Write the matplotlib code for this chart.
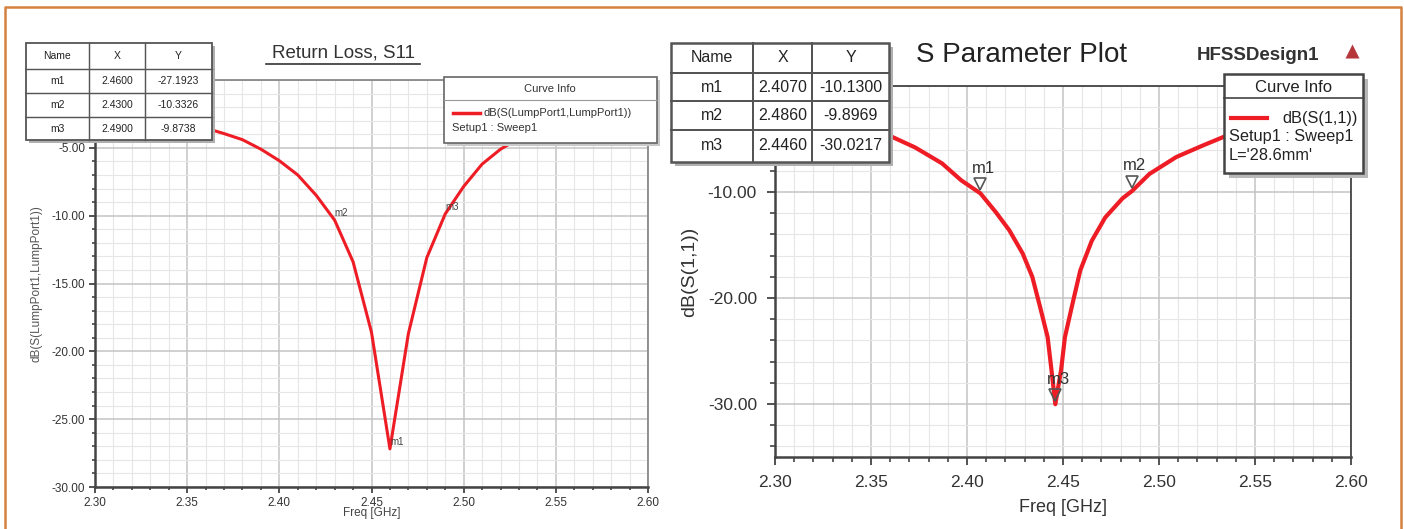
import matplotlib.pyplot as plt
import matplotlib.transforms as mtransforms
from matplotlib.patches import Rectangle
from matplotlib.ticker import MultipleLocator, FormatStrFormatter

plt.rcParams['font.family'] = ['Liberation Sans', 'DejaVu Sans']

W, H = 1404, 529

# left plot: Return Loss, S11 (coarse sweep, 0.01 GHz)
left_freq = [2.30, 2.31, 2.32, 2.33, 2.34, 2.35, 2.36, 2.37, 2.38, 2.39, 2.40,
             2.41, 2.42, 2.43, 2.44, 2.45, 2.46, 2.47, 2.48, 2.49, 2.50,
             2.51, 2.52, 2.53, 2.54, 2.55, 2.56, 2.57, 2.58, 2.59, 2.60]
left_db = [-2.0, -2.2, -2.4, -2.6, -2.9, -3.2, -3.55, -3.95, -4.4, -5.1, -5.95,
           -7.0, -8.5, -10.33, -13.4, -18.6, -27.19, -18.7, -13.1, -9.87, -7.85,
           -6.2, -5.1, -4.3, -3.7, -3.2, -2.8, -2.5, -2.3, -2.1, -1.9]
left_names = ['m1', 'm2', 'm3']
left_mx = [2.46, 2.43, 2.49]
left_my = [-27.1923, -10.3326, -9.8738]

# right plot: S Parameter Plot
right_freq = [2.30, 2.32, 2.34, 2.35, 2.361, 2.373, 2.387, 2.397, 2.407, 2.415,
              2.422, 2.429, 2.434, 2.438, 2.442, 2.444, 2.446, 2.449, 2.451, 2.455,
              2.459, 2.465, 2.472, 2.481, 2.486, 2.495, 2.509, 2.523, 2.535, 2.55,
              2.57, 2.60]
right_db = [-2.4, -3.0, -3.8, -4.3, -4.8, -5.8, -7.3, -8.9, -10.13, -11.9,
            -13.6, -15.8, -18.0, -20.8, -23.7, -26.8, -30.02, -26.8, -23.7, -20.5,
            -17.4, -14.6, -12.4, -10.6, -9.9, -8.3, -6.7, -5.6, -4.7, -3.9,
            -3.2, -2.5]
right_names = ['m1', 'm2', 'm3']
right_mx = [2.407, 2.486, 2.446]
right_my = [-10.13, -9.8969, -30.0217]

RED = '#ee1c24'

fig = plt.figure(figsize=(W / 100, H / 100), dpi=100)
fig.patch.set_facecolor('white')


def axes_px(x0, y0, x1, y1):
    return fig.add_axes([x0 / W, 1 - y1 / H, (x1 - x0) / W, (y1 - y0) / H])


def style_axes(ax, xmaj, xmin, ymaj, ymin, fs, pad, tl, spine_c):
    ax.xaxis.set_major_locator(MultipleLocator(xmaj))
    ax.xaxis.set_minor_locator(MultipleLocator(xmin))
    ax.yaxis.set_major_locator(MultipleLocator(ymaj))
    ax.yaxis.set_minor_locator(MultipleLocator(ymin))
    ax.xaxis.set_major_formatter(FormatStrFormatter('%.2f'))
    ax.yaxis.set_major_formatter(FormatStrFormatter('%.2f'))
    ax.grid(which='major', color='#c4c4c4', lw=1.1)
    ax.grid(which='minor', color='#e6e6e6', lw=0.8)
    ax.set_axisbelow(True)
    ax.tick_params(which='major', length=tl, width=1.3, color='#444',
                   labelsize=fs, labelcolor='#333', pad=pad)
    ax.tick_params(which='minor', length=tl * 0.6, width=1.2, color='#444')
    for s in ax.spines.values():
        s.set_color(spine_c)
        s.set_linewidth(1.3)
    ax.spines['left'].set_color('#444')
    ax.spines['bottom'].set_color('#444')
    ax.spines['left'].set_linewidth(1.8)
    ax.spines['bottom'].set_linewidth(1.8)


# ---- left chart
axl = axes_px(95, 80, 648, 487)
axl.plot(left_freq, left_db, color=RED, lw=2.2)
axl.set_xlim(2.30, 2.60)
axl.set_ylim(-30, 0)
style_axes(axl, 0.05, 0.01, 5, 1, 8.5, 3, 4, '#888')
axl.set_xlabel('Freq [GHz]', fontsize=8.5, color='#444', va='center')
axl.xaxis.set_label_coords(0.5, -0.064)
axl.set_ylabel('dB(S(LumpPort1,LumpPort1))', fontsize=8.5, color='#555', va='center')
axl.yaxis.set_label_coords(-0.105, 0.5)
for n, x, y in zip(left_names, left_mx, left_my):
    axl.annotate(n, (x, y), xytext=(5, 5), textcoords='offset points',
                 fontsize=7, color='#444', ha='center', va='center')

# ---- right chart
axr = axes_px(775, 86, 1351, 457)
axr.plot(right_freq, right_db, color=RED, lw=3, solid_joinstyle='round')
axr.set_xlim(2.30, 2.60)
axr.set_ylim(-35, 0)
style_axes(axr, 0.05, 0.01, 10, 2, 12.5, 7, 6, '#444')
axr.set_xlabel('Freq [GHz]', fontsize=13, color='#333', va='center')
axr.xaxis.set_label_coords(0.5, -0.137)
axr.set_ylabel('dB(S(1,1))', fontsize=14, color='#333', va='center')
axr.yaxis.set_label_coords(-0.148, 0.5)
tri = mtransforms.offset_copy(axr.transData, fig=fig, y=6.5, units='points')
for n, x, y in zip(right_names, right_mx, right_my):
    axr.plot([x], [y], marker='v', ms=8, mfc='none', mec='#555', mew=1.2,
             transform=tri, zorder=5)
    axr.annotate(n, (x, y), xytext=(2, 18), textcoords='offset points',
                 fontsize=12, color='#333', ha='center', va='center')

# ---- overlay: tables, legends, titles, frame
ov = fig.add_axes([0, 0, 1, 1], zorder=10)
ov.set_xlim(0, W)
ov.set_ylim(H, 0)
ov.axis('off')


def box(x0, y0, x1, y1, sh, shc, ec, lw):
    ov.add_patch(Rectangle((x0 + sh, y0 + sh), x1 - x0, y1 - y0, fc=shc, ec='none'))
    ov.add_patch(Rectangle((x0, y0), x1 - x0, y1 - y0, fc='white', ec=ec, lw=lw))


def table(xs, ys, names, mx, my, fs, sh, lw):
    box(xs[0], ys[0], xs[-1], ys[-1], sh, '#b0b0b0', '#555', lw)
    for x in xs[1:-1]:
        ov.plot([x, x], [ys[0], ys[-1]], color='#555', lw=lw * 0.8)
    for y in ys[1:-1]:
        ov.plot([xs[0], xs[-1]], [y, y], color='#555', lw=lw * 0.8)
    rows = [['Name', 'X', 'Y']] + [[n, '%.4f' % x, '%.4f' % y]
                                   for n, x, y in zip(names, mx, my)]
    for r, row in enumerate(rows):
        for c, t in enumerate(row):
            ov.text((xs[c] + xs[c + 1]) / 2, (ys[r] + ys[r + 1]) / 2, t,
                    ha='center', va='center', fontsize=fs, color='#222')


table([26, 89, 145, 212], [43, 69, 93, 117, 140],
      left_names, left_mx, left_my, 7.5, 3, 1.3)
table([671, 753, 812, 889], [43, 73, 101, 130, 162],
      right_names, right_mx, right_my, 11.5, 4, 1.8)

# left curve info
box(444, 77, 657, 143, 3, '#c8c8c8', '#666', 1.2)
ov.plot([444, 657], [100, 100], color='#999', lw=0.8)
ov.text(550, 89, 'Curve Info', ha='center', va='center', fontsize=8, color='#333')
ov.plot([453, 480], [113, 113], color=RED, lw=2.5)
ov.text(484, 113, 'dB(S(LumpPort1,LumpPort1))', va='center', fontsize=8, color='#333')
ov.text(452, 128, 'Setup1 : Sweep1', va='center', fontsize=8, color='#333')

# right curve info
box(1224, 74, 1363, 173, 5, '#b8b8b8', '#444', 1.8)
ov.plot([1224, 1363], [98, 98], color='#444', lw=1.2)
ov.text(1294, 87, 'Curve Info', ha='center', va='center', fontsize=12, color='#222')
ov.plot([1231, 1267], [118, 118], color=RED, lw=3)
ov.text(1358, 118, 'dB(S(1,1))', ha='right', va='center', fontsize=11.8, color='#222')
ov.text(1229, 137, 'Setup1 : Sweep1', va='center', fontsize=11.8, color='#222')
ov.text(1229, 155, "L='28.6mm'", va='center', fontsize=11.8, color='#222')

# titles
ov.text(343, 53, 'Return Loss, S11', ha='center', va='center', fontsize=13.5, color='#333')
ov.plot([266, 420], [64, 64], color='#333', lw=1.2)
ov.text(1022, 55, 'S Parameter Plot', ha='center', va='center', fontsize=20, color='#222')
ov.text(1258, 56, 'HFSSDesign1', ha='center', va='center', fontsize=13.5,
        fontweight='bold', color='#333')
ov.plot([1352], [51], marker='^', ms=10, color='#b5373a', mec='none')

# orange frame
ov.plot([5, 5, 1401, 1401], [H, 7, 7, H], color='#d4813f', lw=1.8)

fig.savefig('out.png', dpi=100)
